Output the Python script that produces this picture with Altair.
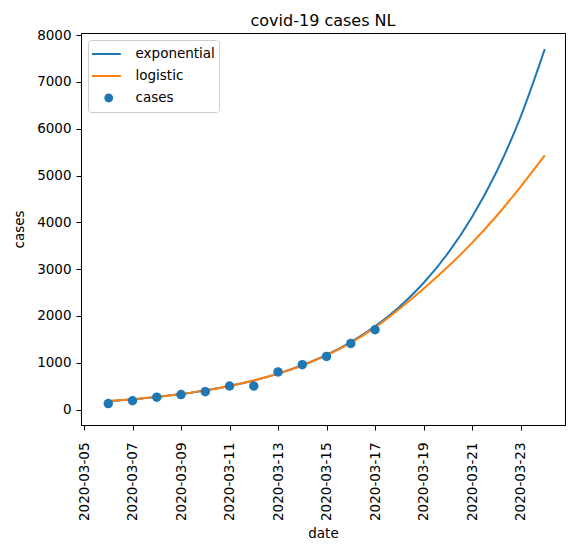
import altair as alt
import pandas as pd

# ---- data ----
case_dates = ["2020-03-06", "2020-03-07", "2020-03-08", "2020-03-09", "2020-03-10", "2020-03-11",
              "2020-03-12", "2020-03-13", "2020-03-14", "2020-03-15", "2020-03-16", "2020-03-17"]
cases = [128, 188, 265, 321, 382, 503, 503, 804, 959, 1135, 1413, 1705]

curve_dates = ["2020-03-06", "2020-03-07", "2020-03-08", "2020-03-09", "2020-03-10", "2020-03-11",
               "2020-03-12", "2020-03-13", "2020-03-14", "2020-03-15", "2020-03-16", "2020-03-17",
               "2020-03-18", "2020-03-19", "2020-03-20", "2020-03-21", "2020-03-22", "2020-03-23",
               "2020-03-24"]
exponential = [176, 218, 268, 331, 408, 504, 621, 767, 946, 1167, 1440, 1776,
               2191, 2703, 3335, 4114, 5070, 6250, 7700]
logistic = [182, 222, 272, 334, 410, 505, 622, 766, 942, 1158, 1425, 1755,
            2150, 2580, 3050, 3560, 4130, 4760, 5430]

series_names = ["exponential", "logistic", "cases"]
series_colors = ["#1f77b4", "#ff7f0e", "#1f77b4"]
x_ticks = ["2020-03-05", "2020-03-07", "2020-03-09", "2020-03-11", "2020-03-13",
           "2020-03-15", "2020-03-17", "2020-03-19", "2020-03-21", "2020-03-23"]
y_ticks = [0, 1000, 2000, 3000, 4000, 5000, 6000, 7000, 8000]

lines_df = pd.DataFrame(
    {"date": curve_dates * 2,
     "series": ["exponential"] * len(curve_dates) + ["logistic"] * len(curve_dates),
     "value": exponential + logistic})
cases_df = pd.DataFrame({"date": case_dates, "series": ["cases"] * len(case_dates), "value": cases})

FONT = "DejaVu Sans"


def dt(s, h=0):
    y, m, d = (int(p) for p in s.split("-"))
    return alt.DateTime(year=y, month=m, date=d, hours=h, utc=True)


x_enc = alt.X(
    "date:T",
    title="date",
    scale=alt.Scale(type="utc", domain=[dt("2020-03-04", 21), dt("2020-03-24", 20)]),
    axis=alt.Axis(values=[dt(s) for s in x_ticks],
                  labelExpr="utcFormat(datum.value, '%Y-%m-%d')",
                  labelAngle=270, labelPadding=12, titlePadding=6, grid=False),
)
y_enc = alt.Y(
    "value:Q",
    title="cases",
    scale=alt.Scale(domain=[-330, 8045], nice=False, zero=False),
    axis=alt.Axis(values=y_ticks, format="d", labelPadding=5, titlePadding=10, grid=False),
)

DOT = "M0.65,0A0.2,0.2,0,1,1,0.25,0A0.2,0.2,0,1,1,0.65,0Z"
color_scale = alt.Scale(domain=series_names, range=series_colors)
legend = alt.Legend(
    title=None, orient="top-left", offset=7, padding=4,
    strokeColor="#cccccc", fillColor="white", cornerRadius=3,
    symbolSize=1960, clipHeight=20, rowPadding=2, labelOffset=30,
    labelFont=FONT, labelFontSize=13.5, labelColor="black",
    symbolType={"expr": f"datum.value === 'cases' ? '{DOT}' : 'stroke'"},
    symbolStrokeWidth={"expr": "datum.value === 'cases' ? 0 : 2"},
    symbolFillColor={"expr": "scale('color', datum.value)"},
    symbolStrokeColor={"expr": "scale('color', datum.value)"},
    symbolOpacity=1,
)

lines = alt.Chart(lines_df).mark_line(strokeWidth=2, interpolate="monotone").encode(
    x=x_enc, y=y_enc,
    color=alt.Color("series:N", scale=color_scale, legend=legend),
)
points = alt.Chart(cases_df).mark_circle(size=90, opacity=1).encode(
    x=x_enc, y=y_enc,
    color=alt.Color("series:N", scale=color_scale, legend=legend),
)

chart = (
    alt.layer(lines, points)
    .properties(
        width=484, height=392,
        title=alt.Title("covid-19 cases NL", font=FONT, fontSize=16, fontWeight="normal",
                        color="black", offset=-1, anchor="middle"),
        padding={"left": 73, "top": 25, "right": 14, "bottom": 115},
        autosize=alt.AutoSizeParams(type="none"),
        background="white",
    )
    .configure_view(stroke="black", strokeWidth=1)
    .configure_axis(
        domainColor="black", domainWidth=1, tickColor="black", tickSize=5, tickWidth=1,
        labelFont=FONT, labelFontSize=13.5, labelColor="black",
        titleFont=FONT, titleFontSize=13.5, titleFontWeight="normal", titleColor="black",
    )
)

chart.save("out.html", embed_options={"renderer": "svg", "actions": False})
